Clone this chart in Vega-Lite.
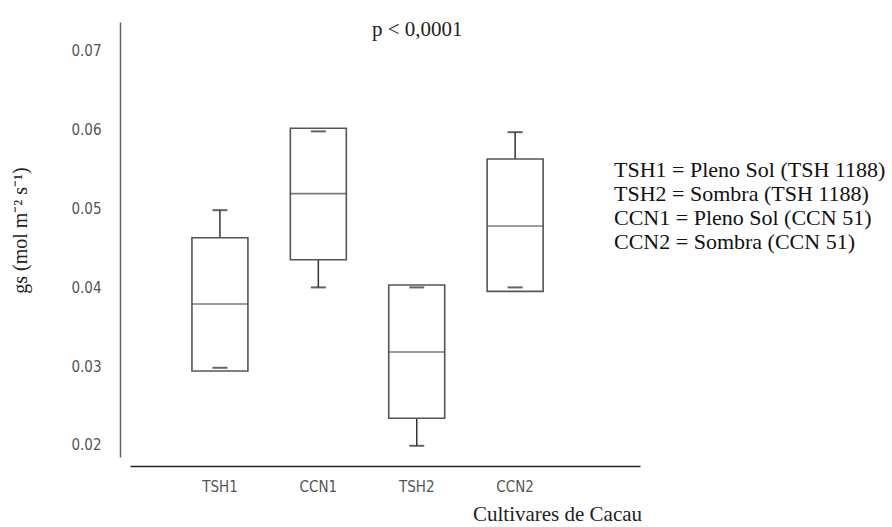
{
  "$schema": "https://vega.github.io/schema/vega-lite/v6.json",
  "autosize": {"type": "none"},
  "padding": {"left": 130, "top": 22, "right": 252, "bottom": 70},
  "width": 510,
  "height": 435,
  "background": "white",
  "title": {
    "text": "p < 0,0001",
    "anchor": "start",
    "frame": "group",
    "dx": 242,
    "dy": 35,
    "offset": 0,
    "baseline": "alphabetic",
    "font": "Liberation Serif",
    "fontSize": 21,
    "fontWeight": "normal",
    "color": "#222"
  },
  "data": {
    "values": [
      {"cultivar": "TSH1", "desc": "TSH1 = Pleno Sol (TSH 1188)", "min": 0.0298, "q1": 0.0294, "median": 0.0379, "q3": 0.0463, "max": 0.0498},
      {"cultivar": "CCN1", "desc": "CCN1 = Pleno Sol (CCN 51)", "min": 0.0400, "q1": 0.0435, "median": 0.0519, "q3": 0.0602, "max": 0.0598},
      {"cultivar": "TSH2", "desc": "TSH2 = Sombra (TSH 1188)", "min": 0.0199, "q1": 0.0234, "median": 0.0318, "q3": 0.0403, "max": 0.0400},
      {"cultivar": "CCN2", "desc": "CCN2 = Sombra (CCN 51)", "min": 0.0400, "q1": 0.0395, "median": 0.0478, "q3": 0.0563, "max": 0.0597}
    ]
  },
  "encoding": {
    "x": {
      "field": "cultivar",
      "type": "nominal",
      "sort": ["TSH1", "CCN1", "TSH2", "CCN2"],
      "scale": {"paddingInner": 0.431, "paddingOuter": 0.807, "align": 0.39},
      "axis": {
        "title": "Cultivares de Cacau",
        "labelAngle": 0,
        "ticks": false,
        "tickSize": 0,
        "offset": 9,
        "domainColor": "#222",
        "domainWidth": 1.5,
        "labelFont": "DejaVu Sans Condensed",
        "labelFontSize": 15,
        "labelColor": "#555",
        "labelPadding": 13,
        "titleFont": "Liberation Serif",
        "titleFontSize": 21,
        "titleFontWeight": "normal",
        "titleColor": "#222",
        "titleX": 427,
        "titleY": 48,
        "titleAlign": "center",
        "titleBaseline": "middle"
      }
    }
  },
  "layer": [
    {
      "mark": {"type": "rule", "color": "#333", "strokeWidth": 1.5},
      "encoding": {
        "y": {"field": "min", "type": "quantitative"},
        "y2": {"field": "q1"}
      }
    },
    {
      "mark": {"type": "rule", "color": "#333", "strokeWidth": 1.5},
      "encoding": {
        "y": {"field": "q3", "type": "quantitative"},
        "y2": {"field": "max"}
      }
    },
    {
      "mark": {"type": "bar", "fill": "white", "strokeWidth": 1.6},
      "encoding": {
        "y": {
          "field": "q1",
          "type": "quantitative",
          "scale": {"domain": [0.018477, 0.07368], "nice": false, "zero": false},
          "axis": {
            "title": "gs (mol m⁻² s⁻¹)",
            "values": [0.02, 0.03, 0.04, 0.05, 0.06, 0.07],
            "format": ".2f",
            "grid": false,
            "ticks": false,
            "tickSize": 0,
            "offset": 10,
            "domainColor": "#666",
            "domainWidth": 1.5,
            "labelFont": "DejaVu Sans Condensed",
            "labelFontSize": 15,
            "labelColor": "#555",
            "labelPadding": 19,
            "titleFont": "Liberation Serif",
            "titleFontSize": 20,
            "titleFontWeight": "normal",
            "titleColor": "#222",
            "titleAngle": -90,
            "titleX": -100,
            "titleY": 208,
            "titleAlign": "center",
            "titleBaseline": "middle"
          }
        },
        "y2": {"field": "q3"},
        "stroke": {
          "field": "desc",
          "type": "nominal",
          "scale": {
            "domain": ["TSH1 = Pleno Sol (TSH 1188)", "TSH2 = Sombra (TSH 1188)", "CCN1 = Pleno Sol (CCN 51)", "CCN2 = Sombra (CCN 51)"],
            "range": ["#555", "#555", "#555", "#555"]
          },
          "legend": {
            "title": null,
            "orient": "none",
            "legendX": 462,
            "legendY": 137,
            "symbolSize": 0,
            "symbolOpacity": 0,
            "symbolStrokeWidth": 0,
            "labelOffset": 0,
            "labelFont": "Liberation Serif",
            "labelFontSize": 22,
            "labelColor": "#111",
            "labelLimit": 400,
            "rowPadding": 2
          }
        }
      }
    },
    {
      "mark": {"type": "tick", "color": "#444", "thickness": 1.6, "size": 56},
      "encoding": {
        "y": {"field": "median", "type": "quantitative"}
      }
    },
    {
      "mark": {"type": "tick", "color": "#222", "thickness": 2, "size": 15},
      "encoding": {
        "y": {"field": "min", "type": "quantitative"}
      }
    },
    {
      "mark": {"type": "tick", "color": "#222", "thickness": 2, "size": 15},
      "encoding": {
        "y": {"field": "max", "type": "quantitative"}
      }
    }
  ],
  "config": {
    "view": {"stroke": null}
  }
}
